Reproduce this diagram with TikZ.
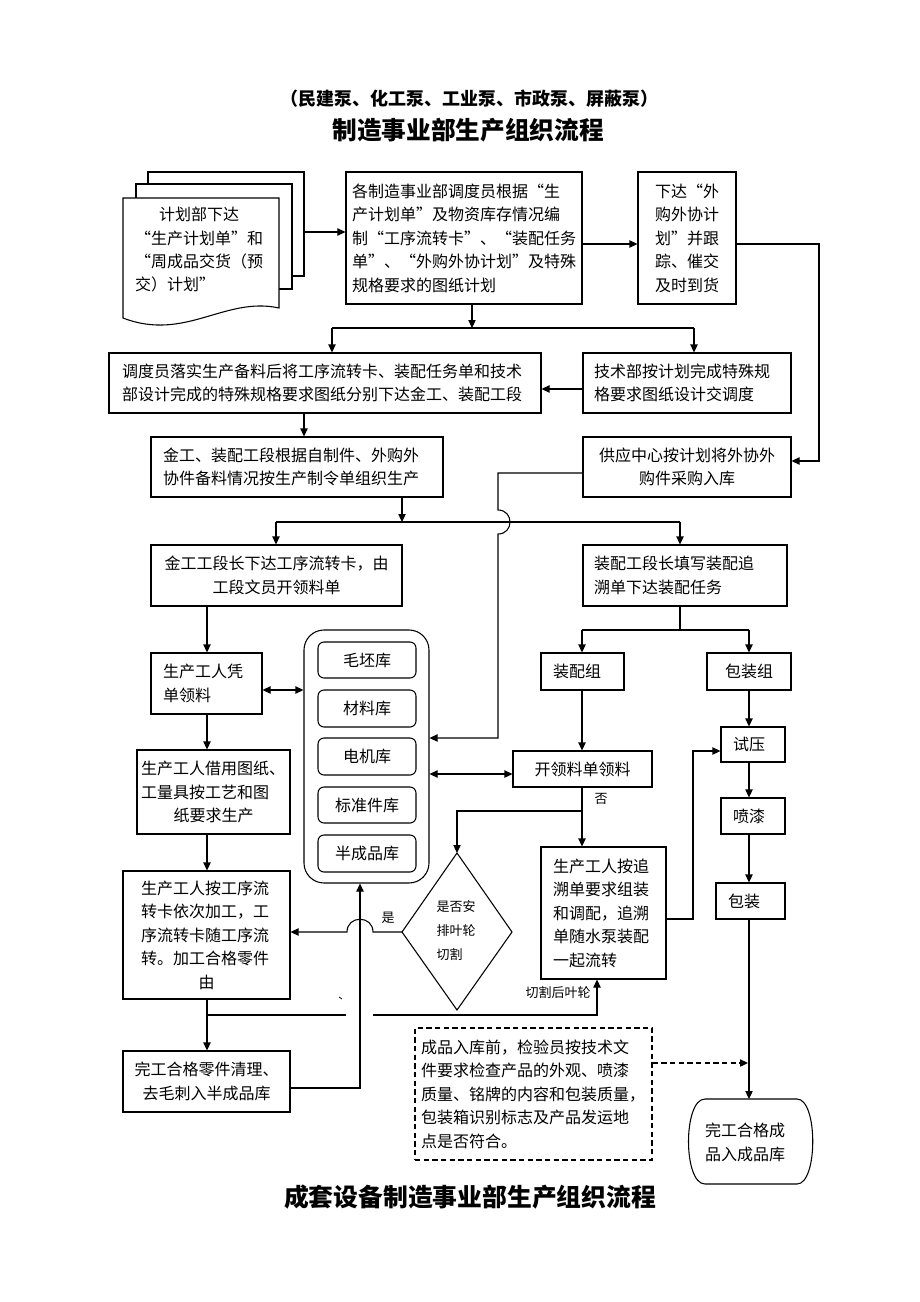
\documentclass[tikz,border=0pt]{standalone}
\usepackage{fontspec}
\setmainfont{Noto Sans CJK SC}
\usetikzlibrary{arrows.meta}
\newcommand\pxbox[8]{%
 \pgfmathsetmacro\tbw{(#4-#2-2*#6)*0.75}%
 \pgfmathsetmacro\tbh{(#5-#3)*0.75}%
 \pgfmathsetmacro\tbm{#6*0.75}%
 \node[bx, text width=\tbw pt, inner xsep=\tbm pt, minimum height=\tbh pt, #7] (#1) at ({(#2+#4)/2},{(#3+#5)/2}) {#8};}
\begin{document}
\begin{tikzpicture}[x=0.75pt,y=-0.75pt, line width=0.8pt,
 bx/.style={draw, rectangle, inner ysep=0pt, font=\fontsize{12pt}{17.6pt}\selectfont},
 arr/.style={-{Triangle[length=6pt,width=5.5pt]}},
 darr/.style={{Triangle[length=6pt,width=5.5pt]}-{Triangle[length=6pt,width=5.5pt]}},
 small/.style={font=\fontsize{9.75pt}{18pt}\selectfont, inner sep=0pt},
 dsh/.style={dash pattern=on 4pt off 2.5pt}]
\useasboundingbox (0,0) rectangle (920,1302);

% titles
\node[font=\bfseries\fontsize{13.5pt}{16pt}\selectfont] (t1) at (469,99) {（民建泵、化工泵、工业泵、市政泵、屏蔽泵）};
\node[font=\bfseries\fontsize{18.5pt}{22pt}\selectfont] (t2) at (468,130) {制造事业部生产组织流程};
\node[font=\bfseries\fontsize{18.6pt}{22pt}\selectfont] (t3) at (470,1197) {成套设备制造事业部生产组织流程};

% document stack
\filldraw[fill=white] (148,172) rectangle (304,276);
\filldraw[fill=white] (136,184) rectangle (292,289);
\filldraw[fill=white] (123,198) -- (279,198) -- (279,308) .. controls (225,296) and (185,342) .. (123,318) -- cycle;
\node[font=\fontsize{12pt}{17.5pt}\selectfont, text width=96pt, align=left, inner sep=0pt] (doc) at (199,250)
 {\makebox[96pt]{计划部下达}\\“生产计划单”和\\“周成品交货（预\\交）计划”};
\coordinate (docR) at (304,232);

% boxes
\pxbox{A}{346}{172}{582}{304}{6}{align=left}{各制造事业部调度员根据“生\\产计划单”及物资库存情况编\\制“工序流转卡”、“装配任务\\单”、“外购外协计划”及特殊\\规格要求的图纸计划}
\pxbox{B}{638}{172}{736}{304}{17}{align=left}{下达“外\\购外协计\\划”并跟\\踪、催交\\及时到货}
\pxbox{C}{109}{353}{541}{413}{13}{align=left}{调度员落实生产备料后将工序流转卡、装配任务单和技术\\部设计完成的特殊规格要求图纸分别下达金工、装配工段}
\pxbox{D}{583}{353}{791}{413}{11}{align=left}{技术部按计划完成特殊规\\格要求图纸设计交调度}
\pxbox{F}{151}{437}{443}{497}{12}{align=left}{金工、装配工段根据自制件、外购外\\协件备料情况按生产制令单组织生产}
\pxbox{E}{583}{437}{791}{497}{10}{align=center}{供应中心按计划将外协外\\购件采购入库}
\pxbox{G}{151}{545}{402}{606}{10}{align=center}{金工工段长下达工序流转卡，由\\工段文员开领料单}
\pxbox{H}{583}{545}{787}{606}{11}{align=left}{装配工段长填写装配追\\溯单下达装配任务}
\pxbox{I}{151}{653}{262}{714}{12}{align=left}{生产工人凭\\单领料}
\pxbox{J}{137}{750}{290}{834}{4}{align=left}{生产工人借用图纸、\\工量具按工艺和图\\\makebox[\tbw pt]{纸要求生产}}
\pxbox{K}{123}{871}{290}{999}{18}{align=left}{生产工人按工序流\\转卡依次加工，工\\序流转卡随工序流\\转。加工合格零件\\\makebox[\tbw pt]{由}}
\pxbox{N}{123}{1051}{290}{1112}{10}{align=center}{完工合格零件清理、\\去毛刺入半成品库}
\pxbox{Z1}{541}{653}{624}{690}{12}{align=left}{装配组}
\pxbox{Z2}{707}{653}{791}{690}{10}{align=center}{包装组}
\pxbox{T}{721}{727}{785}{762}{12}{align=left}{试压}
\pxbox{Pq}{721}{798}{785}{834}{12}{align=left}{喷漆}
\pxbox{Bz}{716}{883}{785}{919}{12}{align=left}{包装}
\pxbox{L}{513}{751}{652}{787}{10}{align=center}{开领料单领料}
\pxbox{M}{541}{847}{666}{979}{12}{align=left}{生产工人按追\\溯单要求组装\\和调配，追溯\\单随水泵装配\\一起流转}
\pxbox{Q}{415}{1028}{652}{1160}{6}{align=left, dsh}{成品入库前，检验员按技术文\\件要求检查产品的外观、喷漆\\质量、铭牌的内容和包装质量，\\包装箱识别标志及产品发运地\\点是否符合。}

% storage
\pxbox{S}{304}{630}{429}{883}{4}{rounded corners=15pt}{}
\pxbox{s1}{318}{642}{416}{678}{4}{align=center, rounded corners=4.5pt}{毛坯库}
\pxbox{s2}{318}{690}{416}{727}{4}{align=center, rounded corners=4.5pt}{材料库}
\pxbox{s3}{318}{738}{416}{775}{4}{align=center, rounded corners=4.5pt}{电机库}
\pxbox{s4}{318}{787}{416}{823}{4}{align=center, rounded corners=4.5pt}{标准件库}
\pxbox{s5}{318}{835}{416}{872}{4}{align=center, rounded corners=4.5pt}{半成品库}

% diamond
\draw (457,853) -- (512,932) -- (457,1010) -- (402,932) -- cycle;
\coordinate (dtop) at (457,853);
\coordinate (dleft) at (402,932);
\node[small, align=left] (dtx) at (456,931) {是否安\\排叶轮\\切割};

% barrel
\draw (705,1099) -- (797,1099) .. controls (818,1099) and (818,1184) .. (797,1184) -- (705,1184) .. controls (683,1184) and (683,1099) .. (705,1099) -- cycle;
\coordinate (Ptop) at (749,1099);
\node[font=\fontsize{12pt}{18pt}\selectfont, align=left, inner sep=0pt] (P) at (745,1142) {完工合格成\\品入成品库};

% labels
\node[small] (lshi) at (388,918) {是};
\node[small] (lfou) at (601,799) {否};
\node[small] (lqg) at (558,993) {切割后叶轮};
\draw[line width=0.6pt] (339,997) -- (342,999);

% connectors
\draw[arr] (docR) -- (docR -| A.west);
\draw[arr] (A.east |- 0,244) -- (B.west |- 0,244);
\draw[arr] (B.east |- 0,244) -- (819,244) -- (819,461) -- (E.east |- 0,461);
\draw[arr] (A.south -| 472,0) -- (472,328);
\draw (332,328) -- (694,328);
\draw[arr] (332,328) -- (C.north -| 332,0);
\draw[arr] (694,328) -- (D.north -| 694,0);
\draw[arr] (D.west |- 0,389) -- (C.east |- 0,389);
\draw[arr] (C.south -| 304,0) -- (F.north -| 304,0);
\draw[arr] (F.south -| 402,0) -- (402,522);
\draw (276,522) -- (680,522);
\draw[arr] (276,522) -- (G.north -| 276,0);
\draw[arr] (680,522) -- (H.north -| 680,0);
\draw[arr] (E.west |- 0,473) -- (498,473) -- (498,510) .. controls (514,510) and (514,534) .. (498,534) -- (498,738) -- (S.east |- 0,738);
\draw[arr] (G.south -| 207,0) -- (I.north -| 207,0);
\draw[darr] (I.east |- 0,690) -- (S.west |- 0,690);
\draw[arr] (I.south -| 207,0) -- (J.north -| 207,0);
\draw[arr] (J.south -| 207,0) -- (K.north -| 207,0);
\draw[arr] (K.south -| 207,0) -- (N.north -| 207,0);
\draw (207,1015) -- (346,1015);
\draw[arr] (373,1015) -- (597,1015) -- (M.south -| 597,0);
\draw[arr] (N.east |- 0,1088) -- (360,1088) -- (S.south -| 360,0);
\draw[arr] (dleft) -- (373,932) .. controls (373,915) and (347,915) .. (347,932) -- (K.east |- 0,932);
\draw (H.south -| 680,0) -- (680,630);
\draw (582,630) -- (749,630);
\draw[arr] (582,630) -- (Z1.north -| 582,0);
\draw[arr] (749,630) -- (Z2.north -| 749,0);
\draw[arr] (Z1.south -| 582,0) -- (L.north -| 582,0);
\draw[darr] (S.east |- 0,774) -- (L.west |- 0,774);
\draw[arr] (L.south -| 582,0) -- (M.north -| 582,0);
\draw[arr] (582,811) -- (457,811) -- (dtop);
\draw[arr] (Z2.south -| 749,0) -- (T.north -| 749,0);
\draw[arr] (T.south -| 749,0) -- (Pq.north -| 749,0);
\draw[arr] (Pq.south -| 749,0) -- (Bz.north -| 749,0);
\draw[arr] (Bz.south -| 749,0) -- (Ptop);
\draw[arr] (M.east |- 0,919) -- (693,919) -- (693,751) -- (T.west |- 0,751);
\draw[arr, dsh] (Q.east |- 0,1063) -- (748,1063);
\end{tikzpicture}
\end{document}
